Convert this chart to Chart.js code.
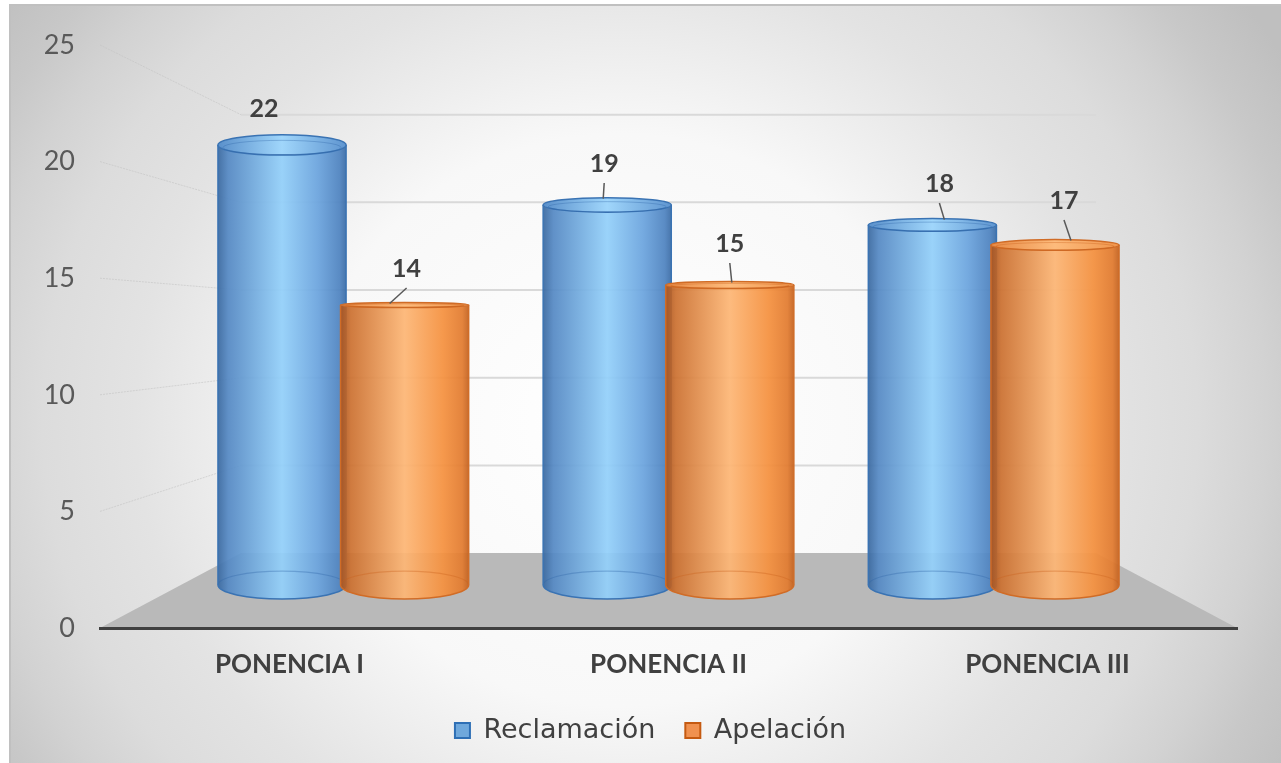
<!DOCTYPE html>
<html>
<head>
<meta charset="utf-8">
<script src="https://cdn.jsdelivr.net/npm/chart.js@4.4.1/dist/chart.umd.min.js"></script>
<style>
html,body{margin:0;padding:0;background:#ffffff;}
canvas{display:block;}
</style>
</head>
<body>
<canvas id="c" width="1281" height="763"></canvas>
<script>
// ---- data ----
const categories = ['PONENCIA I', 'PONENCIA II', 'PONENCIA III'];
const seriesNames = ['Reclamación', 'Apelación'];
const reclamacion = [22, 19, 18];
const apelacion = [14, 15, 17];
const yTicks = [0, 5, 10, 15, 20, 25];

// ---- style ----
const FONT = 'Lato, "DejaVu Sans", sans-serif';
const LEGEND_FONT = '"DejaVu Sans", Lato, sans-serif';
const persp = { bar: 0.858, back: 0.752, eyeFrac: 0.482 };
const legendShift = { x: 27, y: -3 };
const palettes = [
  { body: [[0,'#3a69a0'],[0.08,'#5589c4'],[0.5,'#93d0fa'],[0.78,'#6ba4de'],[0.95,'#4e83c0'],[1,'#3b6ca6']],
    top:  [[0,'#5a90cb'],[0.5,'#a0d6fb'],[1,'#5f95d0']],
    edge: '#3a73b3', rim: 'rgba(45,100,165,0.35)', fill: '#6fa8dc', border: '#2e6fb5' },
  { body: [[0,'#a9531d'],[0.08,'#cc7131'],[0.5,'#fdb675'],[0.8,'#f5913f'],[0.95,'#e27b2f'],[1,'#c4621f']],
    top:  [[0,'#e88a45'],[0.5,'#fdbb7c'],[1,'#f0954c']],
    edge: '#d06c27', rim: 'rgba(200,95,25,0.35)', fill: '#f0914f', border: '#c55a11' }
];
const labelLayout = [
  [{dx:-18, dy:-36, leader:null}, {dx:-3, dy:-41, leader:-4}, {dx:7, dy:-41, leader:12}],
  [{dx:2, dy:-36, leader:-15}, {dx:0, dy:-41, leader:2}, {dx:9, dy:-44, leader:16}]
];

function vanish(area) {
  return { x: (area.left + area.right) / 2, y: area.top + persp.eyeFrac * (area.bottom - area.top) };
}
function proj(p, x, y, s) {
  return { x: p.x + (x - p.x) * s, y: p.y + (y - p.y) * s };
}
function ellRy(p, y) {
  return 1.5 + Math.abs(y - p.y) * 0.048;
}
function grad(ctx, x0, x1, stops) {
  const g = ctx.createLinearGradient(x0, 0, x1, 0);
  stops.forEach(s => g.addColorStop(s[0], s[1]));
  return g;
}

const scenePlugin = {
  id: 'scene',
  afterLayout(chart) {
    if (chart.legend) {
      chart.legend.left += legendShift.x;
      chart.legend.right += legendShift.x;
      chart.legend.top += legendShift.y;
      chart.legend.bottom += legendShift.y;
    }
  },
  beforeDraw(chart) {
    const ctx = chart.ctx;
    const area = chart.chartArea;
    const ys = chart.scales.y;
    const p = vanish(area);
    ctx.save();
    ctx.fillStyle = '#ffffff';
    ctx.fillRect(0, 0, chart.width, chart.height);
    // chart box background
    ctx.save();
    ctx.beginPath();
    ctx.rect(10, 5, chart.width - 10, chart.height - 5);
    ctx.clip();
    ctx.translate(620, 420);
    ctx.scale(700 / 650, 1);
    const rg = ctx.createRadialGradient(0, 0, 0, 0, 0, 715);
    rg.addColorStop(0, '#ffffff');
    rg.addColorStop(0.4, '#f8f8f8');
    rg.addColorStop(0.63, '#e3e3e3');
    rg.addColorStop(0.75, '#dcdcdc');
    rg.addColorStop(0.84, '#d2d2d2');
    rg.addColorStop(0.91, '#c8c8c8');
    rg.addColorStop(1, '#bfbfbf');
    ctx.fillStyle = rg;
    ctx.fillRect(-2000, -2000, 4000, 4000);
    ctx.restore();
    ctx.strokeStyle = '#c0c0c0';
    ctx.lineWidth = 2;
    ctx.beginPath();
    ctx.moveTo(10, chart.height);
    ctx.lineTo(10, 5);
    ctx.lineTo(chart.width, 5);
    ctx.stroke();

    // back wall gridlines and side wall lines
    yTicks.forEach(v => {
      const yf = ys.getPixelForValue(v);
      const bl = proj(p, area.left, yf, persp.back);
      const br = proj(p, area.right, yf, persp.back);
      if (v > 0) {
        ctx.strokeStyle = '#d9d9d9';
        ctx.lineWidth = 2;
        ctx.beginPath();
        ctx.moveTo(bl.x, bl.y);
        ctx.lineTo(br.x, br.y);
        ctx.stroke();
        ctx.strokeStyle = 'rgba(195,195,195,0.6)';
        ctx.lineWidth = 1;
        ctx.setLineDash([2, 1]);
        ctx.beginPath();
        ctx.moveTo(area.left, yf);
        ctx.lineTo(bl.x, bl.y);
        ctx.stroke();
        ctx.setLineDash([]);
      }
    });
    // floor
    const f0 = ys.getPixelForValue(0);
    const fl = proj(p, area.left, f0, persp.back);
    const fr = proj(p, area.right, f0, persp.back);
    ctx.fillStyle = '#b9b9b9';
    ctx.beginPath();
    ctx.moveTo(area.left, f0);
    ctx.lineTo(fl.x, fl.y);
    ctx.lineTo(fr.x, fr.y);
    ctx.lineTo(area.right, f0);
    ctx.closePath();
    ctx.fill();
    ctx.restore();
  },
  beforeDatasetDraw() {
    return false;
  },
  afterDatasetsDraw(chart) {
    const ctx = chart.ctx;
    const area = chart.chartArea;
    const p = vanish(area);
    const tops = [];
    chart.data.datasets.forEach((ds, di) => {
      const meta = chart.getDatasetMeta(di);
      const pal = palettes[di];
      tops[di] = [];
      meta.data.forEach((el, i) => {
        const pr = el.getProps(['x', 'y', 'base', 'width'], true);
        const t = proj(p, pr.x, pr.y, persp.bar);
        const b = proj(p, pr.x, pr.base, persp.bar);
        const cx = t.x;
        const r = pr.width * persp.bar / 2;
        const L = cx - r, R = cx + r;
        const ryT = ellRy(p, t.y), ryB = ellRy(p, b.y);
        tops[di][i] = { x: cx, y: t.y, ry: ryT };
        ctx.save();
        // body
        ctx.globalAlpha = 0.93;
        ctx.fillStyle = grad(ctx, L, R, pal.body);
        ctx.beginPath();
        ctx.moveTo(L, t.y);
        ctx.lineTo(L, b.y);
        ctx.ellipse(cx, b.y, r, ryB, 0, Math.PI, 0, true);
        ctx.lineTo(R, t.y);
        ctx.ellipse(cx, t.y, r, ryT, 0, 0, Math.PI, false);
        ctx.closePath();
        ctx.fill();
        ctx.globalAlpha = 1;
        // back bottom rim (seen through)
        ctx.strokeStyle = pal.rim;
        ctx.lineWidth = 1.2;
        ctx.beginPath();
        ctx.ellipse(cx, b.y, r, ryB, 0, Math.PI, 2 * Math.PI, false);
        ctx.stroke();
        // outline
        ctx.strokeStyle = pal.edge;
        ctx.lineWidth = 1.5;
        ctx.beginPath();
        ctx.moveTo(L, t.y);
        ctx.lineTo(L, b.y);
        ctx.ellipse(cx, b.y, r, ryB, 0, Math.PI, 0, true);
        ctx.lineTo(R, t.y);
        ctx.stroke();
        // top cap
        ctx.fillStyle = grad(ctx, L, R, pal.top);
        ctx.beginPath();
        ctx.ellipse(cx, t.y, r, ryT, 0, 0, 2 * Math.PI);
        ctx.fill();
        ctx.stroke();
        ctx.strokeStyle = pal.rim;
        ctx.lineWidth = 1;
        ctx.beginPath();
        ctx.ellipse(cx, t.y + ryT * 0.25, r - 5, Math.max(ryT * 0.7, 1), 0, 0, 2 * Math.PI);
        ctx.stroke();
        ctx.restore();
      });
    });
    // data labels
    ctx.save();
    ctx.font = 'bold 25px ' + FONT;
    ctx.fillStyle = '#404040';
    ctx.textAlign = 'center';
    ctx.textBaseline = 'middle';
    chart.data.datasets.forEach((ds, di) => {
      ds.data.forEach((v, i) => {
        const tp = tops[di][i];
        const lay = labelLayout[di][i];
        const lx = tp.x + lay.dx, ly = tp.y + lay.dy;
        ctx.fillText(String(v), lx, ly);
        if (lay.leader !== null) {
          ctx.strokeStyle = '#595959';
          ctx.lineWidth = 1.5;
          ctx.beginPath();
          ctx.moveTo(lx, ly + 19);
          ctx.lineTo(tp.x + lay.leader, tp.y - tp.ry + 1);
          ctx.stroke();
        }
      });
    });
    ctx.restore();
  }
};

new Chart(document.getElementById('c').getContext('2d'), {
  type: 'bar',
  data: {
    labels: categories,
    datasets: [
      { label: seriesNames[0], data: reclamacion, backgroundColor: palettes[0].fill, borderColor: palettes[0].border, borderWidth: 2 },
      { label: seriesNames[1], data: apelacion, backgroundColor: palettes[1].fill, borderColor: palettes[1].border, borderWidth: 2 }
    ]
  },
  options: {
    responsive: false,
    animation: false,
    devicePixelRatio: 1,
    layout: { padding: { left: 10, top: 45, right: 44, bottom: 6 } },
    datasets: { bar: { categoryPercentage: 0.754, barPercentage: 1.045 } },
    scales: {
      x: {
        grid: { display: false, drawTicks: false },
        border: { display: true, color: '#404040', width: 3 },
        ticks: { color: '#404040', font: { family: FONT, size: 26, weight: 'bold' }, padding: 21 },
        afterFit(s) { s.height = 62; }
      },
      y: {
        min: 0, max: 25,
        afterBuildTicks(s) { s.ticks = yTicks.map(v => ({ value: v })); },
        grid: { display: false, drawTicks: false },
        border: { display: false },
        ticks: { color: '#595959', font: { family: FONT, size: 27 }, padding: 25 },
        afterFit(s) { s.width = 90; }
      }
    },
    plugins: {
      legend: {
        position: 'bottom',
        labels: { boxWidth: 15, boxHeight: 15, padding: 30, color: '#404040', font: { family: LEGEND_FONT, size: 27 } }
      },
      tooltip: { enabled: false }
    }
  },
  plugins: [scenePlugin]
});
</script>
</body>
</html>
